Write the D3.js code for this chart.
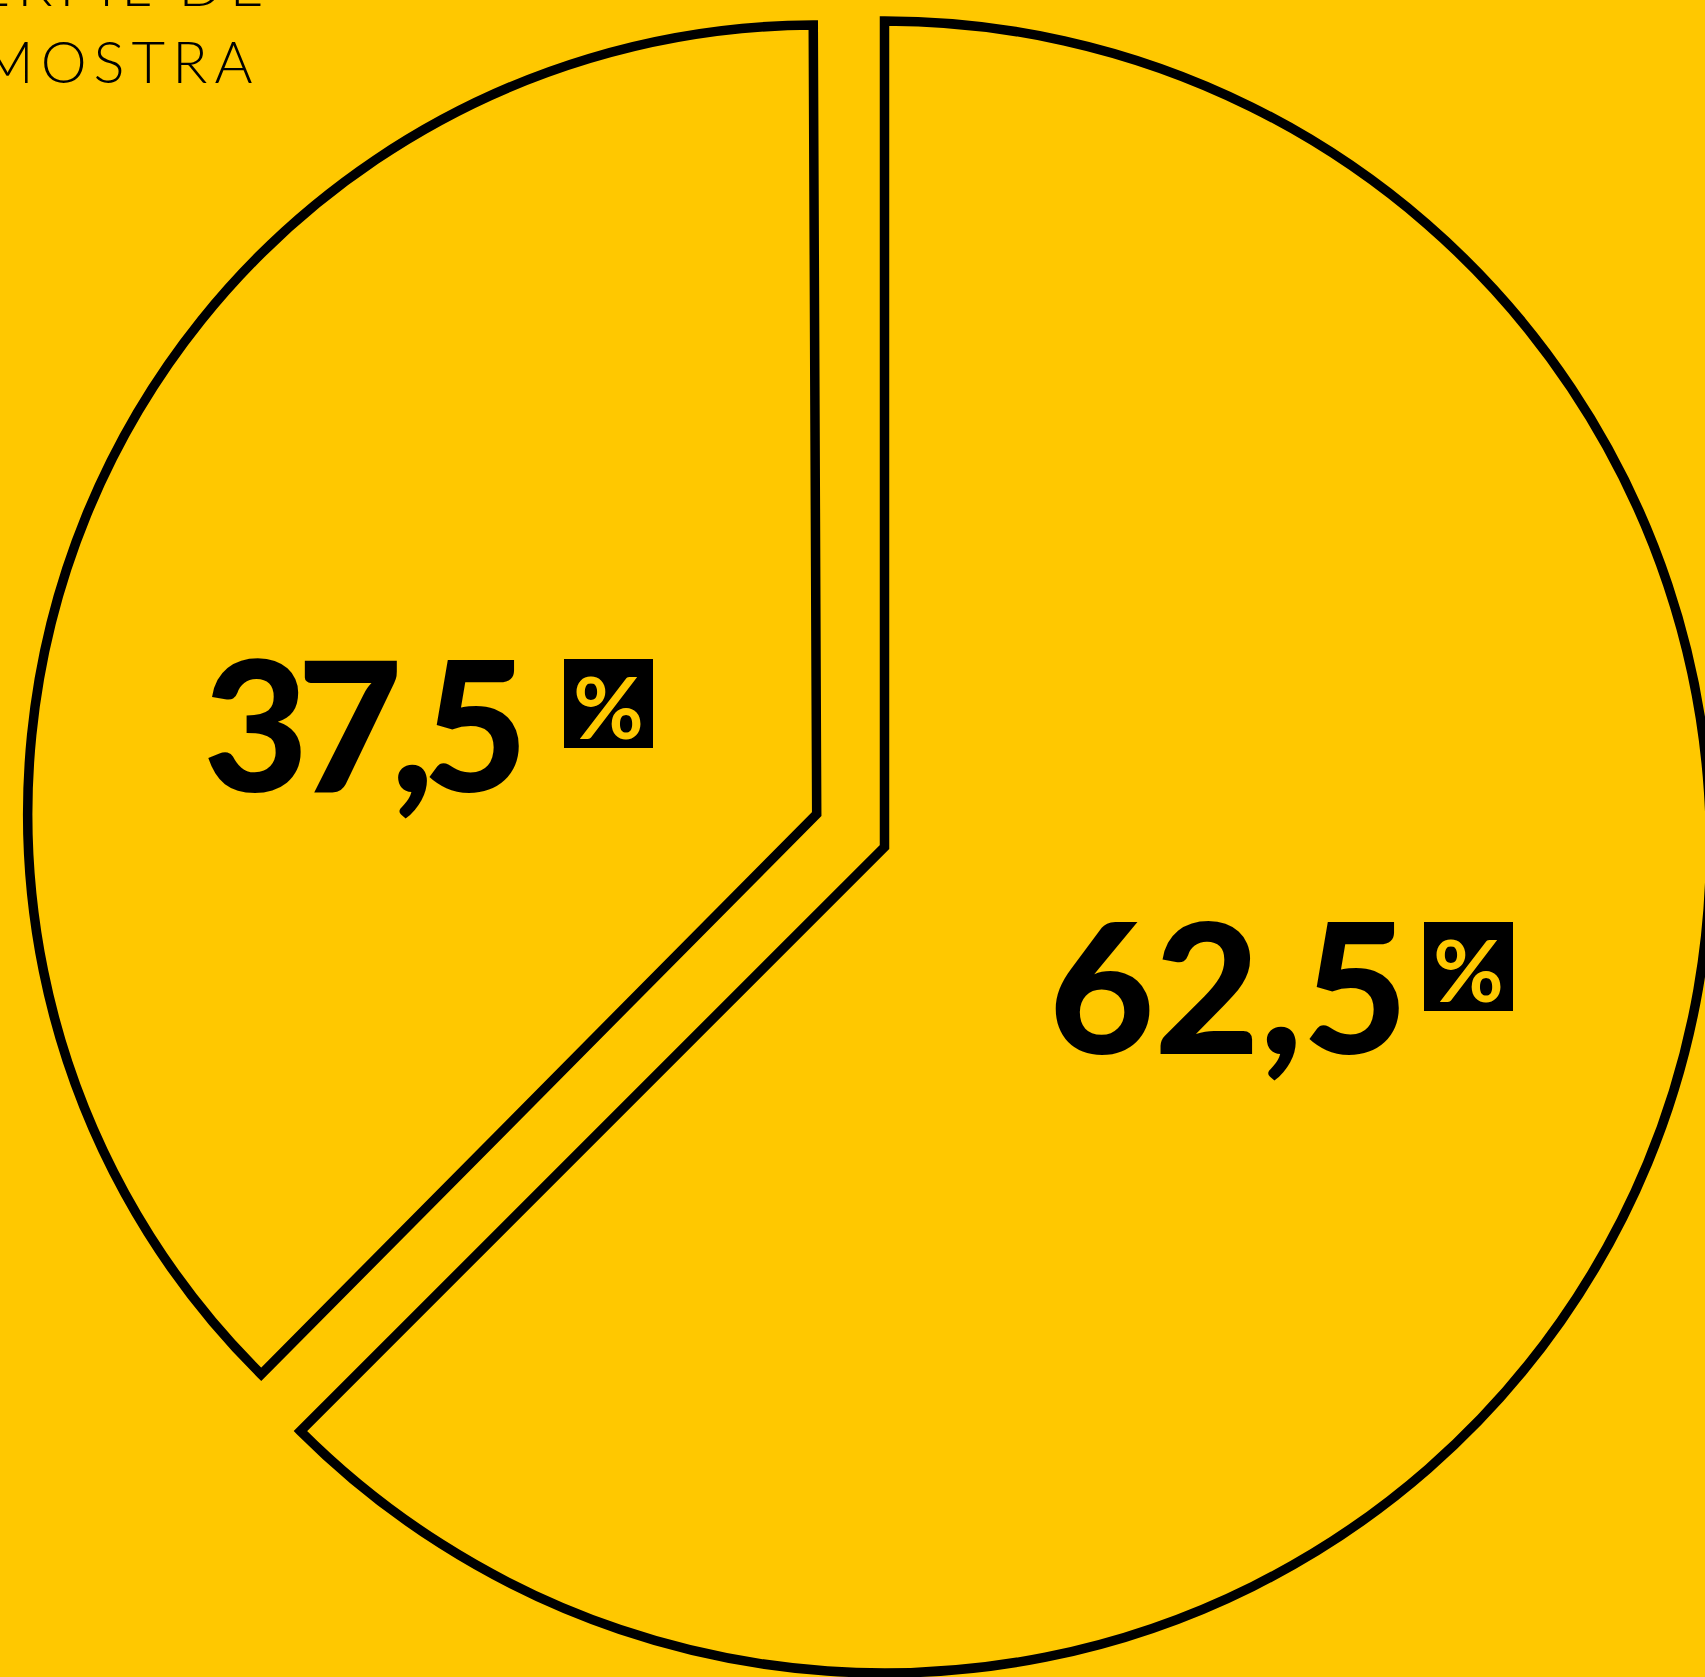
<!DOCTYPE html>
<html>
<head>
<meta charset="utf-8">
<script src="https://cdn.jsdelivr.net/npm/d3@7"></script>
<style>
  html, body { margin: 0; padding: 0; background: #FFC800; overflow: hidden; }
  svg { display: block; }
</style>
</head>
<body>
<svg id="chart" width="1705" height="1677"></svg>
<script>
// ---- data ----
const categories = ["Grupo 1", "Grupo 2"];
const values = [62.5, 37.5];
const titleLines = ["PERFIL DE", "AMOSTRA"];

// ---- layout / style ----
const W = 1705, H = 1677;
const YELLOW = "#FFC800", INK = "#000000";
const sliceLayout = [
  { cx: 884.5, cy: 847, r: 826, rot: 0 },
  { cx: 816.7, cy: 814, r: 789, rot: -0.25 }
];
const labelLayout = [
  { x: 1055, y: 1054, w: 349, boxX: 1424, boxY: 922 },
  { x: 209, y: 792, w: 315, boxX: 564, boxY: 659 }
];
const BOX = 89;

const ptFmt = d3.formatLocale({ decimal: ",", thousands: ".", grouping: [3], currency: ["", ""] }).format(".1f");

const svg = d3.select("#chart");
svg.append("rect").attr("width", W).attr("height", H).attr("fill", YELLOW);

const pie = d3.pie().sort(null).startAngle(0).endAngle(2 * Math.PI);
const arcs = pie(values);

arcs.forEach((a, i) => {
  const L = sliceLayout[i];
  const arc = d3.arc().innerRadius(0).outerRadius(L.r);
  svg.append("path")
    .attr("transform", `translate(${L.cx},${L.cy}) rotate(${L.rot})`)
    .attr("d", arc(a))
    .attr("fill", YELLOW)
    .attr("stroke", INK)
    .attr("stroke-width", 9.5)
    .attr("stroke-linejoin", "miter")
    .attr("stroke-miterlimit", 10);
});

// labels
arcs.forEach((a, i) => {
  const P = labelLayout[i];
  svg.append("text")
    .attr("x", P.x - 6)
    .attr("y", P.y)
    .attr("textLength", P.w + 10)
    .attr("lengthAdjust", "spacing")
    .attr("font-family", "Lato, 'Noto Sans', sans-serif")
    .attr("font-weight", 900)
    .attr("font-size", 182)
    .attr("fill", INK)
    .text(ptFmt(a.data));
  svg.append("rect")
    .attr("x", P.boxX).attr("y", P.boxY)
    .attr("width", BOX).attr("height", BOX)
    .attr("fill", INK);
  svg.append("text")
    .attr("x", P.boxX + BOX / 2)
    .attr("y", P.boxY + BOX / 2 + 2)
    .attr("text-anchor", "middle")
    .attr("dominant-baseline", "central")
    .attr("font-family", "Lato, 'Noto Sans', sans-serif")
    .attr("font-weight", 700)
    .attr("font-size", 86)
    .attr("fill", YELLOW)
    .text("%");
});

// title (partly off-canvas, as in the reference)
const title = svg.append("text")
  .attr("font-family", "Lato, 'Noto Sans', sans-serif")
  .attr("font-weight", 300)
  .attr("font-size", 58)
  .attr("letter-spacing", 7)
  .attr("fill", INK);
title.append("tspan").attr("x", -64).attr("y", 6).text(titleLines[0]);
title.append("tspan").attr("x", -64).attr("y", 83).text(titleLines[1]);
</script>
</body>
</html>
